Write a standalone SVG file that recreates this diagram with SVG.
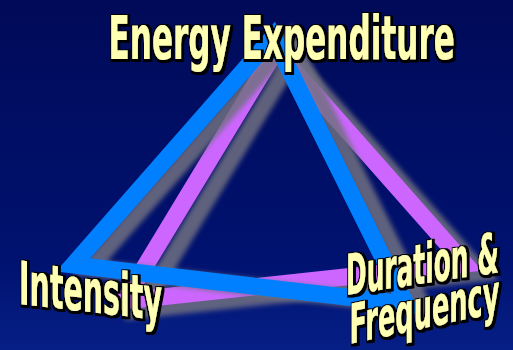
<svg xmlns="http://www.w3.org/2000/svg" width="513" height="350" viewBox="0 0 513 350">
<defs>
<linearGradient id="bg" x1="0" y1="0" x2="0" y2="1">
<stop offset="0" stop-color="#000a58"/>
<stop offset="0.75" stop-color="#001270"/>
<stop offset="1" stop-color="#061f86"/>
</linearGradient>
<filter id="blur" x="-20%" y="-20%" width="140%" height="140%">
<feGaussianBlur stdDeviation="2.4"/>
</filter>
<filter id="ol" x="-15%" y="-40%" width="130%" height="180%">
<feMorphology in="SourceAlpha" operator="dilate" radius="2.2" result="d"/>
<feOffset in="d" dx="0.8" dy="0.8" result="o"/>
<feFlood flood-color="#000000"/>
<feComposite in2="o" operator="in" result="b"/>
<feMerge><feMergeNode in="b"/><feMergeNode in="SourceGraphic"/></feMerge>
</filter>
<style>
.tri{fill:none;stroke-width:17;stroke-linejoin:miter;stroke-miterlimit:10}
.blue{stroke:#0080ff}
.purple{stroke:#cc66ff}
.shadow{stroke:#707080;stroke-opacity:0.85;filter:url(#blur)}
.node{filter:url(#ol)}
.lbl{font-family:"DejaVu Sans",sans-serif;font-weight:bold;fill:#ffffb4}
</style>
</defs>
<rect width="513" height="350" fill="url(#bg)"/>
<g id="connectors">
<polygon class="tri shadow" points="124,301 276,50 465,264" transform="translate(16,9)"/>
<polygon class="tri purple" points="124,301 276,50 465,264"/>
<polygon class="tri shadow" points="73,265 273,37 406,304" transform="translate(17,3)"/>
<polygon class="tri blue" points="73,265 273,37 406,304"/>
</g>
<g id="node-energy" class="node">
<text class="lbl" transform="translate(108.5,59) scale(0.51,1)" font-size="61">Energy Expenditure</text>
</g>
<g id="node-intensity" class="node">
<text class="lbl" transform="translate(19,304) skewY(6.5) scale(0.475,1)" font-size="60">Intensity</text>
</g>
<g id="node-duration" class="node">
<text class="lbl" transform="translate(346,295) skewY(-8.5) scale(0.444,1)" font-size="56">Duration &amp;</text>
<text class="lbl" transform="translate(349.5,344) skewY(-12) scale(0.466,1)" font-size="55">Frequency</text>
</g>
</svg>
